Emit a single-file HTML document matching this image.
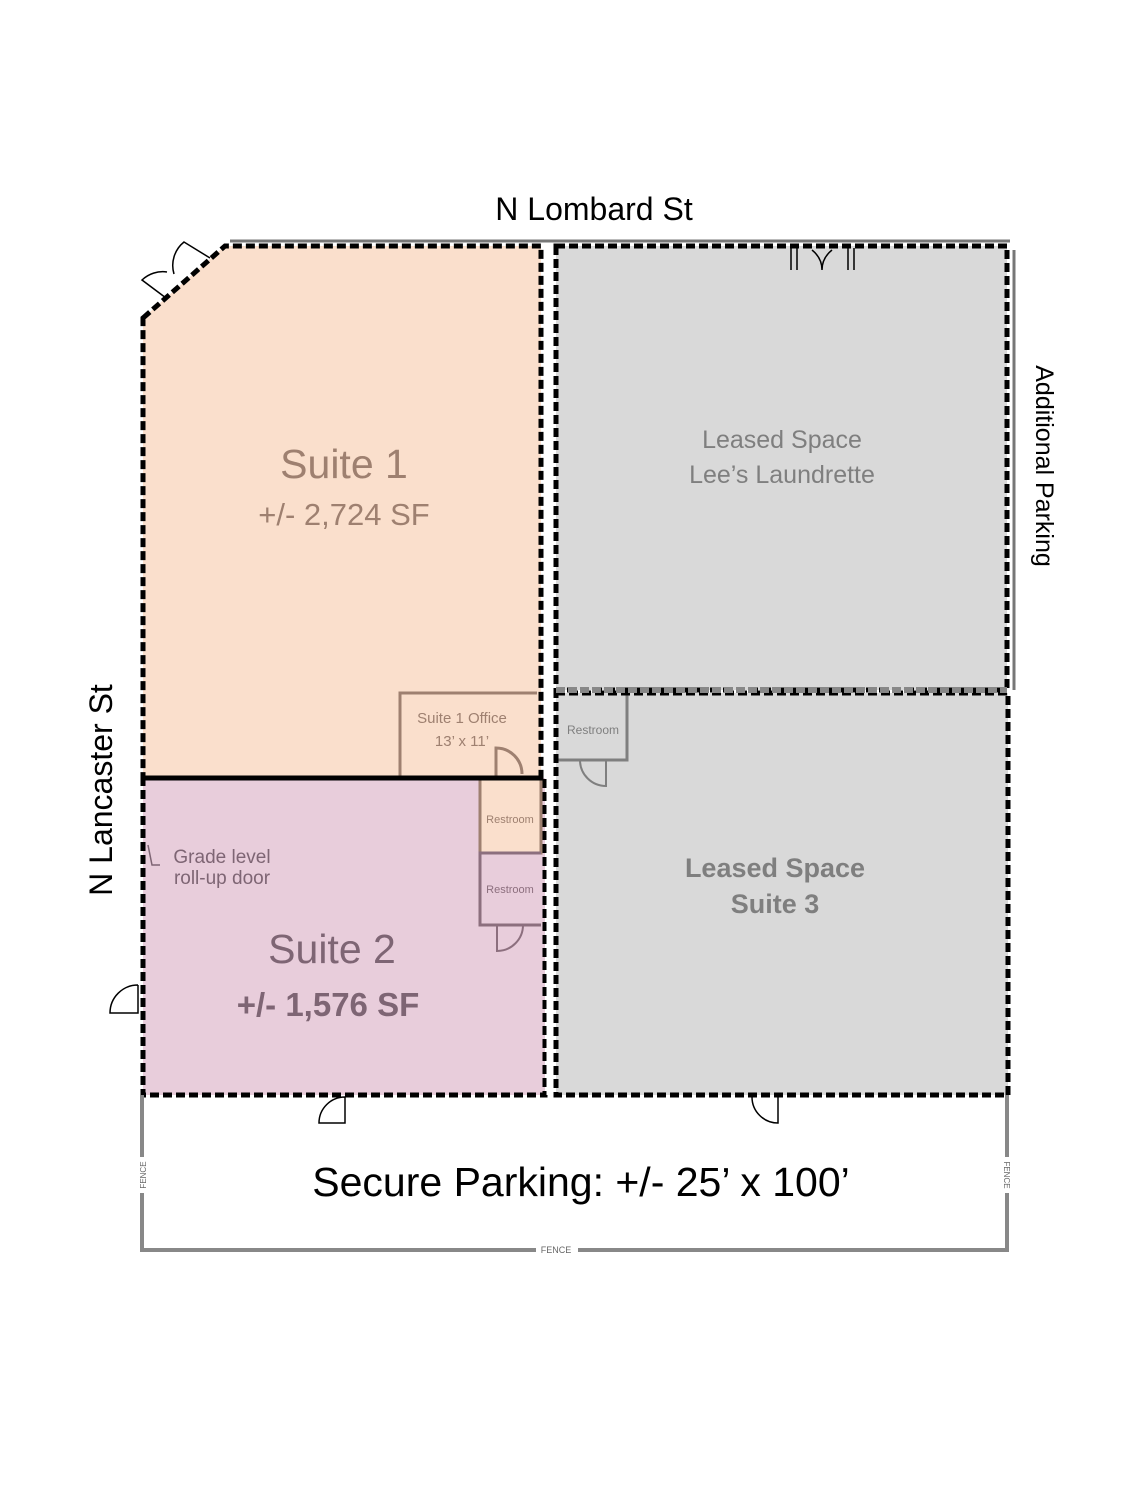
<!DOCTYPE html>
<html><head><meta charset="utf-8"><style>
html,body{margin:0;padding:0;background:#fff}
svg{display:block}
text{font-family:"Liberation Sans",sans-serif}
</style></head><body>
<svg width="1148" height="1485" viewBox="0 0 1148 1485" xmlns="http://www.w3.org/2000/svg">
<polygon points="143,318 225,246 541,246 541,778 143,778" fill="#fadfcc"/>
<rect x="143" y="778" width="402" height="317" fill="#e8cddb"/>
<rect x="556" y="246" width="451" height="444" fill="#d9d9d9"/>
<rect x="556" y="693" width="452" height="402" fill="#d9d9d9"/>
<rect x="480" y="778" width="61" height="75" fill="#fadfcc"/>
<line x1="230" y1="241" x2="1010" y2="241" stroke="#777" stroke-width="3"/>
<line x1="1014" y1="250" x2="1014" y2="690" stroke="#777" stroke-width="3"/>
<g fill="none" stroke="#9e8070" stroke-width="3">
<polyline points="400,776 400,693 537,693"/>
<path d="M496,776 v-28 a26,26 0 0 1 26,26"/>
<rect x="480" y="778" width="61" height="75"/>
</g>
<g fill="none" stroke="#8c6f7e" stroke-width="3">
<polyline points="541,853 480,853 480,925 541,925"/>
<path d="M497,925 v26 a26,26 0 0 0 26,-26" stroke-width="2"/>
</g>
<g fill="none" stroke="#7f7f7f" stroke-width="3">
<polyline points="556,760 627,760 627,693"/>
<path d="M580,760 a26,26 0 0 0 26,26 v-26" stroke-width="2"/>
</g>
<g fill="none" stroke="#000" stroke-width="5" stroke-dasharray="9,4">
<polygon points="143,318 225,246 541,246 541,778 143,778"/>
<rect x="143" y="778" width="402" height="317"/>
<rect x="556" y="246" width="451" height="444"/>
<rect x="556" y="693" width="452" height="402"/>
</g>
<line x1="556" y1="690" x2="1007" y2="690" stroke="#888" stroke-width="6" stroke-dasharray="9,3"/>
<line x1="548" y1="246" x2="548" y2="1095" stroke="#fff" stroke-width="3"/>
<g fill="none" stroke="#000" stroke-width="1.5">
<path d="M210,258 L184,242 a30,30 0 0 0 -10,32"/>
<path d="M166,298 L142,280 a30,30 0 0 1 25,-8"/>
<path d="M138,985 v28 h-28 a28,28 0 0 1 28,-28"/>
<path d="M345,1097 v26 h-26 a26,26 0 0 1 26,-26"/>
<path d="M778,1097 v26 a26,26 0 0 1 -26,-26"/>
<path d="M791,248 v22 M797,248 v22 M848,248 v22 M854,248 v22 M812,250 q10,8 10,20 M832,250 q-10,8 -10,20"/>
</g>
<polyline points="142,1095 142,1250 1007,1250 1007,1095" fill="none" stroke="#888" stroke-width="4"/>
<rect x="536" y="1243" width="42" height="14" fill="#fff"/>
<text x="556" y="1253" font-size="9" fill="#666" text-anchor="middle">FENCE</text>
<rect x="135" y="1157" width="14" height="36" fill="#fff"/>
<text transform="translate(146,1175) rotate(-90)" font-size="8" fill="#666" text-anchor="middle">FENCE</text>
<rect x="1000" y="1157" width="14" height="36" fill="#fff"/>
<text transform="translate(1004,1175) rotate(90)" font-size="8" fill="#666" text-anchor="middle">FENCE</text>
<text x="594" y="220" font-size="32" text-anchor="middle" fill="#000">N Lombard St</text>
<text transform="translate(112,790) rotate(-90)" font-size="32" text-anchor="middle" fill="#000">N Lancaster St</text>
<text transform="translate(1036,466) rotate(90)" font-size="25" text-anchor="middle" fill="#000">Additional Parking</text>
<text x="344" y="478" font-size="41" text-anchor="middle" fill="#9e8070">Suite 1</text>
<text x="344" y="525" font-size="31" text-anchor="middle" fill="#9e8070">+/- 2,724 SF</text>
<text x="462" y="723" font-size="15" text-anchor="middle" fill="#9e8070">Suite 1 Office</text>
<text x="462" y="746" font-size="15" text-anchor="middle" fill="#9e8070">13’ x 11’</text>
<text x="510" y="823" font-size="11" text-anchor="middle" fill="#9e8070">Restroom</text>
<text x="510" y="893" font-size="11" text-anchor="middle" fill="#8c6f7e">Restroom</text>
<text x="593" y="734" font-size="12" text-anchor="middle" fill="#7f7f7f">Restroom</text>
<text x="332" y="963" font-size="41" text-anchor="middle" fill="#7e6574">Suite 2</text>
<text x="328" y="1016" font-size="33" text-anchor="middle" fill="#7e6574" font-weight="bold">+/- 1,576 SF</text>
<text x="222" y="863" font-size="19" text-anchor="middle" fill="#7e6574">Grade level</text>
<text x="222" y="884" font-size="19" text-anchor="middle" fill="#7e6574">roll-up door</text>
<path d="M148,845 l4,20 h8" fill="none" stroke="#7e6574" stroke-width="1.5"/>
<text x="782" y="448" font-size="25" text-anchor="middle" fill="#7f7f7f">Leased Space</text>
<text x="782" y="483" font-size="25" text-anchor="middle" fill="#7f7f7f">Lee’s Laundrette</text>
<text x="775" y="877" font-size="27" text-anchor="middle" fill="#7f7f7f" font-weight="bold">Leased Space</text>
<text x="775" y="913" font-size="27" text-anchor="middle" fill="#7f7f7f" font-weight="bold">Suite 3</text>
<text x="581" y="1196" font-size="41" text-anchor="middle" fill="#000">Secure Parking:  +/- 25’ x 100’</text>
</svg>
</body></html>
